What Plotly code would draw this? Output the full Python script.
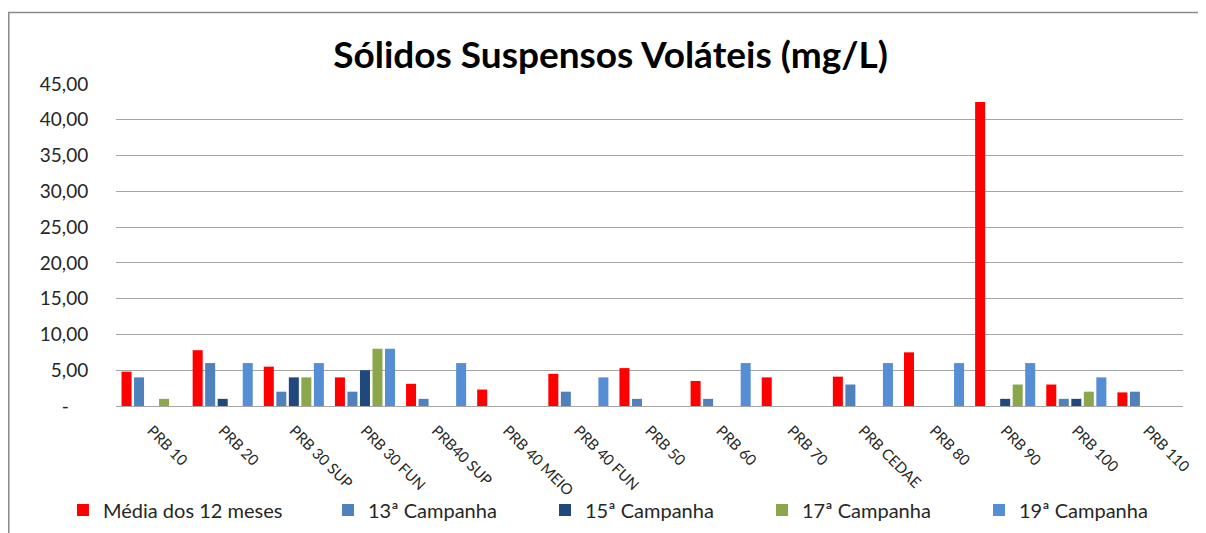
"""
Sólidos Suspensos Voláteis (mg/L) — barras agrupadas por ponto de coleta.
"""

import plotly.graph_objects as go

# ------------------------------------------------------------------
# dados
# ------------------------------------------------------------------

pontos = [
    "PRB 10", "PRB 20", "PRB 30 SUP", "PRB 30 FUN", "PRB40 SUP",
    "PRB 40 MEIO", "PRB 40 FUN", "PRB 50", "PRB 60", "PRB 70",
    "PRB CEDAE", "PRB 80", "PRB 90", "PRB 100", "PRB 110",
]

media_12_meses = [4.8, 7.8, 5.5, 4.0, 3.1, 2.3, 4.5, 5.3, 3.5, 4.0, 4.1, 7.5, 42.5, 3.0, 1.9]
campanha_13 = [4.0, 6.0, 2.0, 2.0, 1.0, None, 2.0, 1.0, 1.0, None, 3.0, None, None, 1.0, 2.0]
campanha_15 = [None, 1.0, 4.0, 5.0, None, None, None, None, None, None, None, None, 1.0, 1.0, None]
campanha_17 = [1.0, None, 4.0, 8.0, None, None, None, None, None, None, None, None, 3.0, 2.0, None]
campanha_19 = [None, 6.0, 6.0, 8.0, 6.0, None, 4.0, None, 6.0, None, 6.0, 6.0, 6.0, 4.0, None]

y_ticks = [0, 5, 10, 15, 20, 25, 30, 35, 40, 45]
y_tick_text = ["-\u00a0\u00a0\u00a0\u00a0", "5,00", "10,00", "15,00", "20,00",
               "25,00", "30,00", "35,00", "40,00", "45,00"]

series = [
    ("Média dos 12 meses", media_12_meses, "#FF0000", "legend"),
    ("13ª Campanha", campanha_13, "#4F81BD", "legend2"),
    ("15ª Campanha", campanha_15, "#1F497D", "legend2"),
    ("17ª Campanha", campanha_17, "#8BA64B", "legend2"),
    ("19ª Campanha", campanha_19, "#558ED5", "legend2"),
]

FONT = "Lato, 'Open Sans', sans-serif"
GRID = "#A6A6A6"
TXT = "#262626"

fig = go.Figure()
for name, vals, color, leg in series:
    fig.add_trace(go.Bar(
        x=pontos, y=vals, name=name, legend=leg,
        marker=dict(color=color, line=dict(width=0)),
        hovertemplate=f"<b>{name}</b><br>%{{x}}: %{{y:.2f}}<extra></extra>",
    ))

# moldura do gráfico (cortada à direita e embaixo, como no original)
fig.add_shape(
    type="rect", xref="paper", yref="paper",
    x0=-0.1005, x1=1.04, y0=-0.5, y1=1.2222,
    line=dict(color="#8A8A8A", width=1.5), layer="below",
)

legend_base = dict(
    orientation="h", xref="paper", yref="paper",
    xanchor="left", y=-0.323, yanchor="middle",
    font=dict(family=FONT, size=20, color=TXT),
    bgcolor="rgba(0,0,0,0)",
)

fig.update_layout(
    width=1206, height=533,
    showlegend=True,
    barmode="group", bargap=0.12, bargroupgap=0.2,
    paper_bgcolor="white", plot_bgcolor="white",
    font=dict(family=FONT, size=15, color=TXT),
    margin=dict(l=108, r=31, t=76, b=132),
    title=dict(
        text="<b>Sólidos Suspensos Voláteis (mg/L)</b>",
        font=dict(family=FONT, size=37, color="#000000"),
        xref="container", yref="container",
        x=0.4996, xanchor="center", y=0.9118, yanchor="middle",
    ),
    legend=dict(legend_base, x=-0.0497),
    legend2=dict(legend_base, x=0.1987, entrywidth=172, entrywidthmode="pixels"),
    xaxis=dict(
        tickangle=45, showline=True, linecolor=GRID, linewidth=1,
        showgrid=False, ticks="outside", ticklen=9, tickcolor="rgba(0,0,0,0)",
        tickfont=dict(family=FONT, size=15, color=TXT), automargin=False,
    ),
    yaxis=dict(
        range=[0, 45], tickvals=y_ticks, ticktext=y_tick_text,
        showgrid=True, gridcolor=GRID, gridwidth=1, zeroline=False,
        ticks="outside", ticklen=23, tickcolor="rgba(0,0,0,0)",
        tickfont=dict(family=FONT, size=19, color=TXT), automargin=False,
    ),
)

fig.write_html("out.html")
